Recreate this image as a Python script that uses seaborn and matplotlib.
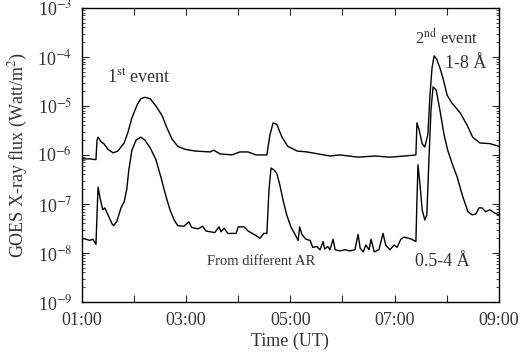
import numpy as np
import pandas as pd
import matplotlib
matplotlib.use('Agg')
import matplotlib.pyplot as plt
import seaborn as sns
from matplotlib.ticker import LogLocator, FixedLocator, NullFormatter

# 1-8 Å 通道 (时间: 小时 UT, 通量: W/m^2)
t_long = [1.00, 1.15, 1.27, 1.29, 1.31, 1.36, 1.42, 1.50, 1.60, 1.69, 1.81, 1.88,
          1.96, 2.06, 2.13, 2.21, 2.31, 2.42, 2.54, 2.63, 2.73, 2.84, 2.98, 3.17,
          3.46, 3.53, 3.65, 3.88, 4.03, 4.19, 4.34, 4.55, 4.61, 4.67, 4.74, 4.84,
          4.95, 5.13, 5.32, 5.53, 5.76, 5.95, 6.30, 6.62, 6.91, 7.20, 7.41, 7.43,
          7.47, 7.53, 7.58, 7.64, 7.68, 7.72, 7.76, 7.81, 7.87, 7.93, 8.01, 8.10,
          8.26, 8.39, 8.50, 8.64, 8.83, 9.00]
f_long = [8.3e-7, 8.3e-7, 8.0e-7, 2.0e-6, 2.3e-6, 1.9e-6, 1.7e-6, 1.3e-6, 1.1e-6, 1.2e-6,
          1.75e-6, 2.8e-6, 5.7e-6, 1.05e-5, 1.4e-5, 1.5e-5, 1.4e-5, 1.0e-5, 6.3e-6, 3.6e-6,
          2.1e-6, 1.5e-6, 1.3e-6, 1.2e-6, 1.15e-6, 1.25e-6, 1.05e-6, 1.0e-6, 1.15e-6, 1.15e-6,
          1.0e-6, 1.0e-6, 2.6e-6, 4.5e-6, 4.2e-6, 2.3e-6, 1.5e-6, 1.2e-6, 1.15e-6, 1.05e-6,
          9.5e-7, 1.0e-6, 9.0e-7, 9.5e-7, 9.0e-7, 9.5e-7, 1.0e-6, 4.5e-6, 3.3e-6, 1.7e-6,
          1.45e-6, 2.6e-6, 1.65e-5, 6.0e-5, 1.05e-4, 9.0e-5, 6.0e-5, 3.7e-5, 1.65e-5, 1.15e-5,
          7.2e-6, 4.1e-6, 2.3e-6, 1.75e-6, 1.7e-6, 1.5e-6]

# 0.5-4 Å 通道
t_short = [1.00, 1.08, 1.15, 1.21, 1.27, 1.29, 1.31, 1.35, 1.40, 1.44, 1.50, 1.58,
           1.61, 1.67, 1.75, 1.81, 1.86, 1.90, 1.96, 2.04, 2.13, 2.21, 2.31, 2.42,
           2.52, 2.59, 2.69, 2.77, 2.84, 2.96, 3.05, 3.11, 3.23, 3.32, 3.38, 3.55,
           3.63, 3.67, 3.73, 3.80, 3.96, 4.00, 4.11, 4.19, 4.30, 4.42, 4.49, 4.55,
           4.59, 4.63, 4.69, 4.74, 4.80, 4.86, 4.93, 5.01, 5.09, 5.15, 5.18, 5.22,
           5.30, 5.38, 5.43, 5.51, 5.57, 5.63, 5.66, 5.72, 5.76, 5.82, 5.86, 5.95,
           6.05, 6.14, 6.24, 6.30, 6.34, 6.40, 6.45, 6.51, 6.55, 6.61, 6.70, 6.78,
           6.83, 6.91, 6.99, 7.05, 7.12, 7.18, 7.26, 7.33, 7.41, 7.43, 7.45, 7.49,
           7.53, 7.58, 7.62, 7.66, 7.70, 7.74, 7.80, 7.87, 7.95, 8.02, 8.12, 8.20,
           8.31, 8.41, 8.49, 8.56, 8.62, 8.68, 8.75, 8.83, 8.92, 9.00]
f_short = [2.0e-8, 1.9e-8, 1.8e-8, 1.9e-8, 1.5e-8, 6.0e-8, 2.2e-7, 1.3e-7, 7.6e-8, 8.3e-8,
           6.0e-8, 3.9e-8, 3.6e-8, 4.4e-8, 8.3e-8, 1.1e-7, 1.95e-7, 4.9e-7, 1.25e-6, 2.0e-6,
           2.3e-6, 2.0e-6, 1.4e-6, 8.0e-7, 3.4e-7, 1.75e-7, 7.6e-8, 4.7e-8, 3.6e-8, 3.5e-8,
           4.3e-8, 3.3e-8, 3.1e-8, 3.5e-8, 2.8e-8, 2.6e-8, 3.4e-8, 2.7e-8, 3.2e-8, 2.5e-8,
           2.5e-8, 3.4e-8, 3.4e-8, 2.8e-8, 2.4e-8, 2.0e-8, 2.5e-8, 2.5e-8, 1.9e-7, 5.4e-7,
           4.9e-7, 4.2e-7, 2.4e-7, 1.2e-7, 6.0e-8, 3.4e-8, 2.4e-8, 1.8e-8, 3.4e-8, 2.4e-8,
           1.9e-8, 1.8e-8, 1.3e-8, 1.35e-8, 1.16e-8, 1.7e-8, 1.2e-8, 1.35e-8, 1.16e-8, 1.9e-8,
           1.16e-8, 1.1e-8, 1.16e-8, 1.1e-8, 1.16e-8, 2.4e-8, 1.25e-8, 1.05e-8, 1.45e-8, 1.16e-8,
           1.9e-8, 1.05e-8, 1.16e-8, 2.5e-8, 1.45e-8, 1.16e-8, 1.45e-8, 1.3e-8, 1.9e-8, 2.1e-8,
           2.0e-8, 1.9e-8, 1.7e-8, 1.2e-7, 6.3e-7, 2.4e-7, 7.6e-8, 4.7e-8, 6.0e-8, 8.0e-7,
           8.3e-6, 2.45e-5, 2.1e-5, 8.3e-6, 2.6e-6, 1.25e-6, 6.0e-7, 3.6e-7, 1.4e-7, 6.9e-8,
           6.0e-8, 6.2e-8, 8.3e-8, 8.3e-8, 6.9e-8, 7.6e-8, 6.5e-8, 6.0e-8]

hour_ticks = [1, 2, 3, 4, 5, 6, 7, 8, 9]
hour_labels = ['01:00', '', '03:00', '', '05:00', '', '07:00', '', '09:00']
flux_ticks = [1e-9, 1e-8, 1e-7, 1e-6, 1e-5, 1e-4, 1e-3]
flux_labels = ['10$^{-9}$', '10$^{-8}$', '10$^{-7}$', '10$^{-6}$',
               '10$^{-5}$', '10$^{-4}$', '10$^{-3}$']

sns.set_theme(style='ticks')
plt.rcParams['font.family'] = ['Liberation Serif', 'DejaVu Serif']
plt.rcParams['mathtext.fontset'] = 'stix'
plt.rcParams['xtick.direction'] = 'in'
plt.rcParams['ytick.direction'] = 'in'

df_long = pd.DataFrame({'t': t_long, 'flux': f_long})
df_short = pd.DataFrame({'t': t_short, 'flux': f_short})

fig = plt.figure(figsize=(5.25, 3.59), dpi=100)
ax = fig.add_axes([0.156, 0.159, 0.794, 0.819])

sns.lineplot(data=df_long, x='t', y='flux', ax=ax, color='black', lw=1.0,
             estimator=None, sort=False)
sns.lineplot(data=df_short, x='t', y='flux', ax=ax, color='black', lw=1.0,
             estimator=None, sort=False)

ax.set_yscale('log')
ax.set_ylim(1e-9, 1e-3)
ax.set_xlim(1, 9)
ax.yaxis.set_major_locator(FixedLocator(flux_ticks))
ax.set_yticklabels(flux_labels)
ax.yaxis.set_minor_locator(LogLocator(base=10, subs=np.arange(2, 10), numticks=20))
ax.yaxis.set_minor_formatter(NullFormatter())
ax.xaxis.set_major_locator(FixedLocator(hour_ticks))
ax.set_xticklabels(hour_labels)

tc = '#333333'
ax.tick_params(which='major', length=5, width=0.8, top=True, right=True,
               labelsize=13, labelcolor=tc, pad=7)
ax.tick_params(which='minor', length=2.5, width=0.6, top=False, right=True)
for s in ax.spines.values():
    s.set_linewidth(1.0)
    s.set_color('black')

ax.set_xlabel('Time (UT)', fontsize=13, color=tc, labelpad=3)
ax.set_ylabel('GOES X-ray flux (Watt/m$^2$)', fontsize=13, color=tc, labelpad=5)

ax.text(1.48, 3.7e-5, '1$^{\\rm st}$ event', fontsize=13, color=tc, va='center')
ax.text(7.39, 2.5e-4, '2$^{\\rm nd}$ event', fontsize=12, color=tc, va='center')
ax.text(7.97, 7.3e-5, '1-8 Å', fontsize=13, color=tc, va='center')
ax.text(7.39, 6.6e-9, '0.5-4 Å', fontsize=13, color=tc, va='center')
ax.text(3.40, 6.6e-9, 'From different AR', fontsize=10.5, color=tc, va='center')

fig.savefig('out.png', dpi=100)
